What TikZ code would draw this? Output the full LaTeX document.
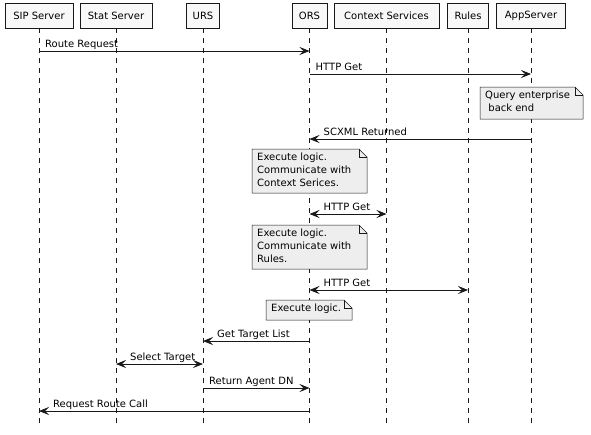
\documentclass[tikz,border=0pt]{standalone}
\usepackage{fontspec}
\setmainfont{DejaVu Sans}
\usetikzlibrary{arrows.meta}
\definecolor{ink}{HTML}{181818}
\definecolor{boxfill}{HTML}{F8F8F8}
\definecolor{notefill}{HTML}{EEEEEE}
\newcommand\mynote[6]{%
  \draw[notebg] (#2,#3) -- (#4-8,#3) -- (#4,#3+8) -- (#4,#5) -- (#2,#5) -- cycle;
  \draw[notebg,fill=none] (#4-8,#3) -- (#4-8,#3+8) -- (#4,#3+8);
  \node[notetxt] (#1) at (#2+5,#3+4) {#6};}
\begin{document}
\begin{tikzpicture}[x=1pt,y=-1pt,
  font=\fontsize{10}{13}\selectfont,
  actor/.style={draw=ink, fill=boxfill, line width=0.8pt, minimum height=25pt, inner sep=0pt},
  life/.style={draw=ink, line width=0.5pt, dash pattern=on 5pt off 5pt},
  tip/.tip={Stealth[length=10pt,width=8pt,inset=4pt]},
  msg/.style={draw=ink, line width=0.8pt, -tip},
  both/.style={draw=ink, line width=0.8pt, tip-tip},
  lbl/.style={anchor=base west, inner sep=0pt, text=black},
  notebg/.style={draw=ink, fill=notefill, line width=0.5pt},
  notetxt/.style={anchor=north west, align=left, inner sep=0pt}]
\useasboundingbox (0,0) rectangle (591,434);
% participants
\node[actor, minimum width=68pt] (sip) at (39,15.5) {SIP Server};
\node[actor, minimum width=72pt] (stat) at (116,15.5) {Stat Server};
\node[actor, minimum width=33pt] (urs) at (203,15.5) {URS};
\node[actor, minimum width=35pt] (ors) at (309.5,15.5) {ORS};
\node[actor, minimum width=105pt] (ctx) at (386.5,15.5) {Context Services};
\node[actor, minimum width=41pt] (rules) at (468,15.5) {Rules};
\node[actor, minimum width=69pt] (app) at (531,15.5) {AppServer};
% lifeline ends
\coordinate (bot) at (0,425);
\foreach \p in {sip,stat,urs,ors,ctx,rules,app}{
  \draw[life] (\p) -- (\p |- bot);}
% rows
\coordinate (r1) at (0,51);
\coordinate (r2) at (0,74);
\coordinate (r3) at (0,139);
\coordinate (r4) at (0,214);
\coordinate (r5) at (0,290);
\coordinate (r6) at (0,341);
\coordinate (r7) at (0,364);
\coordinate (r8) at (0,388);
\coordinate (r9) at (0,411);
% messages
\draw[msg] (sip |- r1) -- (ors |- r1);
\node[lbl] (l1) at ([xshift=6pt,yshift=4pt]sip |- r1) {Route Request};
\draw[msg] (ors |- r2) -- (app |- r2);
\node[lbl] (l2) at ([xshift=6pt,yshift=4pt]ors |- r2) {HTTP Get};
\mynote{n1}{480}{87}{583}{119}{Query enterprise\\\hspace*{0.32em}back end}
\draw[msg] (app |- r3) -- (ors |- r3);
\node[lbl] (l3) at ([xshift=14pt,yshift=4pt]ors |- r3) {SCXML Returned};
\mynote{n2}{252}{149}{367}{193}{Execute logic.\\Communicate with\\Context Serices.}
\draw[both] (ors |- r4) -- (ctx |- r4);
\node[lbl] (l4) at ([xshift=14pt,yshift=4pt]ors |- r4) {HTTP Get};
\mynote{n3}{252}{225}{367}{269}{Execute logic.\\Communicate with\\Rules.}
\draw[both] (ors |- r5) -- (rules |- r5);
\node[lbl] (l5) at ([xshift=14pt,yshift=4pt]ors |- r5) {HTTP Get};
\mynote{n4}{266}{300}{352}{320}{Execute logic.}
\draw[msg] (ors |- r6) -- (urs |- r6);
\node[lbl] (l6) at ([xshift=14pt,yshift=4pt]urs |- r6) {Get Target List};
\draw[both] (stat |- r7) -- (urs |- r7);
\node[lbl] (l7) at ([xshift=14pt,yshift=4pt]stat |- r7) {Select Target};
\draw[msg] (urs |- r8) -- (ors |- r8);
\node[lbl] (l8) at ([xshift=6pt,yshift=4pt]urs |- r8) {Return Agent DN};
\draw[msg] (ors |- r9) -- (sip |- r9);
\node[lbl] (l9) at ([xshift=14pt,yshift=4pt]sip |- r9) {Request Route Call};
\end{tikzpicture}
\end{document}
